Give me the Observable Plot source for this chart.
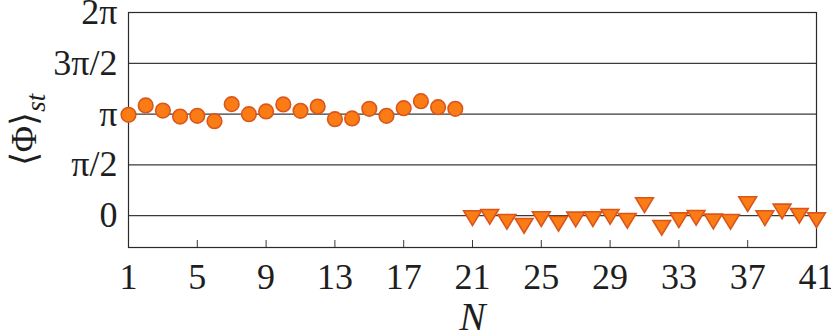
<!DOCTYPE html>
<html>
<head>
<meta charset="utf-8">
<script src="https://cdn.jsdelivr.net/npm/d3@7"></script>
<script src="https://cdn.jsdelivr.net/npm/@observablehq/plot@0.6"></script>
<style>
  html, body { margin: 0; padding: 0; background: #fff; }
  svg, svg text { font-family: "Liberation Serif", "Times New Roman", Times, serif !important; }
</style>
</head>
<body>
<div id="chart"></div>
<script>
// Phase values in units of π
const nCircle = [1,2,3,4,5,6,7,8,9,10,11,12,13,14,15,16,17,18,19,20];
const phaseCircle = [0.993,1.085,1.035,0.976,0.983,0.930,1.098,0.999,1.026,1.095,1.032,1.075,0.950,0.957,1.052,0.983,1.058,1.127,1.068,1.052];
const nTriangle = [21,22,23,24,25,26,27,28,29,30,31,32,33,34,35,36,37,38,39,40,41];
const phaseTriangle = [0.0,0.013,-0.036,-0.076,-0.010,-0.056,-0.013,-0.010,0.013,-0.026,0.128,-0.095,-0.020,0.003,-0.033,-0.036,0.138,0.0,0.066,0.023,-0.020];

const yTickValues = [0, 0.5, 1, 1.5, 2];
const yTickLabels = ["0", "π/2", "π", "3π/2", "2π"];
const xTickValues = [1,5,9,13,17,21,25,29,33,37,41];
const xInnerTicks = [5,9,13,17,21,25,29,33,37];

const circles = nCircle.map((n, i) => ({N: n, phase: phaseCircle[i]}));
const triangles = nTriangle.map((n, i) => ({N: n, phase: phaseTriangle[i]}));

const triangleDown = {
  draw(ctx, size) {
    const y = Math.sqrt(size / (3 * Math.sqrt(3)));
    const s = Math.sqrt(3) * y * 1.05;
    ctx.moveTo(0, 2 * y);
    ctx.lineTo(-s, -y);
    ctx.lineTo(s, -y);
    ctx.closePath();
  }
};

const fillC = "#fb7c14";
const strokeC = "#d9561c";
const serif = "Liberation Serif";

const chart = Plot.plot({
  width: 831,
  height: 334,
  marginLeft: 128,
  marginRight: 15,
  marginTop: 12,
  marginBottom: 87,
  x: {domain: [1, 41]},
  y: {domain: [-0.313, 2]},
  style: {fontFamily: serif, fontSize: "36px", color: "#1e1e1e", background: "#fff", overflow: "visible"},
  marks: [
    Plot.ruleY(yTickValues, {stroke: "#3a3a3a", strokeWidth: 1.2}),
    Plot.frame({stroke: "#2a2a2a", strokeWidth: 1.2}),
    Plot.axisX(xInnerTicks, {anchor: "bottom", tickSize: -7, text: null, label: null, stroke: "#3a3a3a"}),
    Plot.axisX(xTickValues, {anchor: "bottom", tickSize: 0, tickPadding: 16, tickFormat: d => String(d), label: null, fontSize: 36}),
    Plot.axisY(yTickValues, {anchor: "left", tickSize: 0, tickPadding: 11, tickFormat: (d, i) => yTickLabels[i], label: null, fontSize: 36}),
    Plot.text(["N"], {frameAnchor: "bottom", dy: 82, fontStyle: "italic", fontSize: 39, lineAnchor: "bottom"}),
    Plot.dot(circles, {x: "N", y: "phase", r: 7.3, symbol: "circle", fill: fillC, stroke: strokeC, strokeWidth: 1.6}),
    Plot.dot(triangles, {x: "N", y: "phase", r: 6.3, symbol: triangleDown, fill: fillC, stroke: strokeC, strokeWidth: 1.6})
  ]
});

// Y-axis title ⟨Φ⟩_st
const svg = d3.select(chart);
const yTitle = svg.append("text")
  .attr("transform", "translate(36,130) rotate(-90)")
  .attr("text-anchor", "middle")
  .attr("font-size", 36)
  .attr("fill", "#1e1e1e");
yTitle.append("tspan").text("⟨Φ⟩");
yTitle.append("tspan").attr("font-style", "italic").attr("font-size", 27).attr("dy", 9).text("st");

document.getElementById("chart").appendChild(chart);
</script>
</body>
</html>
